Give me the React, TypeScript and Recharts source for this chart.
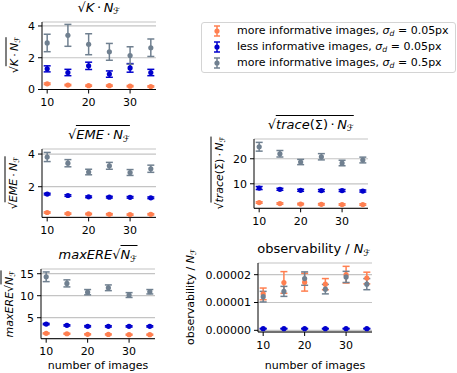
import React from "react";
import { ScatterChart, Scatter, XAxis, YAxis, CartesianGrid, ErrorBar } from "recharts";

const FONT = '"DejaVu Sans", sans-serif';

const nImages = [10, 15, 20, 25, 30, 35];
const xTicks = [10, 20, 30];

// colours: more informative (0.05px), less informative (0.05px), more informative (0.5px)
const ORANGE = "#ff7f50";
const BLUE = "#0000cd";
const GRAY = "#708090";

// sqrt(K * N)
const kMoreFine = [0.36, 0.28, 0.24, 0.24, 0.21, 0.19];
const kMoreFineErr = [0.05, 0.04, 0.04, 0.04, 0.04, 0.04];
const kLessFine = [1.3, 1.07, 1.49, 0.97, 1.36, 1.07];
const kLessFineErr = [0.19, 0.2, 0.23, 0.2, 0.27, 0.2];
const kMoreCoarse = [2.93, 3.41, 2.85, 2.37, 2.14, 2.63];
const kMoreCoarseErr = [0.55, 0.69, 0.66, 0.53, 0.55, 0.55];

// sqrt(EME * N)
const emeMoreFine = [0.42, 0.35, 0.33, 0.31, 0.29, 0.31];
const emeMoreFineErr = [0.04, 0.04, 0.04, 0.04, 0.04, 0.04];
const emeLessFine = [1.55, 1.46, 1.38, 1.36, 1.35, 1.32];
const emeLessFineErr = [0.05, 0.05, 0.05, 0.05, 0.05, 0.05];
const emeMoreCoarse = [3.82, 3.44, 2.9, 3.28, 2.87, 3.1];
const emeMoreCoarseErr = [0.28, 0.22, 0.17, 0.21, 0.18, 0.22];

// sqrt(trace(Sigma) * N)
const trMoreFine = [2.5, 2.1, 1.9, 1.8, 1.7, 1.7];
const trMoreFineErr = [0.3, 0.3, 0.3, 0.3, 0.3, 0.3];
const trLessFine = [8.3, 7.8, 7.4, 7.3, 7.3, 7.1];
const trLessFineErr = [0.6, 0.4, 0.4, 0.4, 0.4, 0.4];
const trMoreCoarse = [24.8, 22.0, 18.7, 20.8, 18.3, 19.5];
const trMoreCoarseErr = [1.75, 1.3, 1.05, 1.25, 1.1, 1.15];

// maxERE sqrt(N)
const ereMoreFine = [1.44, 1.35, 1.22, 1.2, 1.14, 1.14];
const ereMoreFineErr = [0.12, 0.12, 0.12, 0.12, 0.12, 0.12];
const ereLessFine = [3.56, 3.26, 3.05, 3.03, 3.03, 3.03];
const ereLessFineErr = [0.15, 0.15, 0.15, 0.15, 0.15, 0.15];
const ereMoreCoarse = [14.3, 12.8, 10.8, 11.8, 10.15, 10.9];
const ereMoreCoarseErr = [1.1, 0.8, 0.6, 0.65, 0.55, 0.5];

// observability / N
const obsMoreFine = [1.31e-5, 1.72e-5, 1.73e-5, 1.66e-5, 2.0e-5, 1.88e-5];
const obsMoreFineErr = [0.21e-5, 0.39e-5, 0.32e-5, 0.2e-5, 0.3e-5, 0.21e-5];
const obsLessFine = [0.06e-5, 0.06e-5, 0.06e-5, 0.06e-5, 0.06e-5, 0.06e-5];
const obsLessFineErr = [0.01e-5, 0.01e-5, 0.01e-5, 0.01e-5, 0.01e-5, 0.01e-5];
const obsMoreCoarse = [1.21e-5, 1.4e-5, 1.86e-5, 1.48e-5, 1.92e-5, 1.66e-5];
const obsMoreCoarseErr = [0.19e-5, 0.18e-5, 0.24e-5, 0.17e-5, 0.2e-5, 0.2e-5];

const toRows = (vals: number[], errs: number[]) =>
  nImages.map((x, i) => ({ x, y: vals[i], e: errs[i] }));

type Series = { color: string; rows: { x: number; y: number; e: number }[] };

const dot = (color: string) => (p: any) => <circle cx={p.cx} cy={p.cy} r={2.6} fill={color} />;

function Panel(props: {
  left: number;
  top: number;
  h: number;
  yw: number;
  domain: [number, number];
  ticks: number[];
  fmt?: (v: number) => string;
  series: Series[];
}) {
  const { left, top, h, yw, domain, ticks, fmt, series } = props;
  const w = 114;
  return (
    <div style={{ position: "absolute", left: left - yw, top: top - 4 }}>
      <ScatterChart width={yw + w + 4} height={4 + h + 24} margin={{ top: 4, right: 4, bottom: 0, left: 0 }}>
        <CartesianGrid vertical={false} stroke="#c4c4c4" strokeWidth={1.2} />
        <XAxis
          type="number"
          dataKey="x"
          domain={[8.75, 36.25]}
          ticks={xTicks}
          allowDataOverflow
          interval={0}
          height={24}
          stroke="#000"
          tickSize={4}
          tickMargin={5}
          tick={{ fill: "#000", fontSize: 11, fontFamily: FONT }}
        />
        <YAxis
          type="number"
          dataKey="y"
          domain={domain}
          ticks={ticks}
          allowDataOverflow
          interval={0}
          width={yw}
          stroke="#000"
          tickSize={4}
          tickMargin={3}
          tickFormatter={fmt}
          tick={{ fill: "#000", fontSize: 11, fontFamily: FONT }}
        />
        {series.map((s, i) => (
          <Scatter key={i} data={s.rows} fill={s.color} shape={dot(s.color)} isAnimationActive={false}>
            <ErrorBar dataKey="e" direction="y" width={3.5} stroke={s.color} strokeWidth={1.5} isAnimationActive={false} />
          </Scatter>
        ))}
      </ScatterChart>
    </div>
  );
}

const Sub = () => (
  <span style={{ fontSize: "0.7em", position: "relative", top: "0.3em" }}>ℱ</span>
);

const Sqrt = ({ children }: { children: React.ReactNode }) => (
  <span>
    √<span style={{ borderTop: "1px solid #000", paddingTop: 1 }}>{children}</span>
  </span>
);

const dotSep = "\u2009·\u2009";

function Title({ cx, bottom, children }: { cx: number; bottom: number; children: React.ReactNode }) {
  return (
    <div
      style={{
        position: "absolute",
        left: cx,
        top: bottom - 17.5,
        transform: "translateX(-50%)",
        whiteSpace: "nowrap",
        fontSize: 13,
        lineHeight: "16px",
        fontFamily: FONT,
      }}
    >
      {children}
    </div>
  );
}

function YLabel({ cx, cy, children }: { cx: number; cy: number; children: React.ReactNode }) {
  return (
    <div
      style={{
        position: "absolute",
        left: cx,
        top: cy,
        transform: "translate(-50%, -50%) rotate(-90deg)",
        whiteSpace: "nowrap",
        fontSize: 11,
        lineHeight: "14px",
        fontFamily: FONT,
      }}
    >
      {children}
    </div>
  );
}

function XLabel({ cx, cy }: { cx: number; cy: number }) {
  return (
    <div
      style={{
        position: "absolute",
        left: cx,
        top: cy - 7,
        transform: "translateX(-50%)",
        whiteSpace: "nowrap",
        fontSize: 11,
        lineHeight: "14px",
        fontFamily: FONT,
      }}
    >
      number of images
    </div>
  );
}

const legendItems = [
  { color: ORANGE, label: "more informative images, ", sigma: "0.05px" },
  { color: BLUE, label: "less informative images, ", sigma: "0.05px" },
  { color: GRAY, label: "more informative images, ", sigma: "0.5px" },
];

function Legend() {
  return (
    <>
      <div
        style={{
          position: "absolute",
          left: 201,
          top: 22,
          width: 255,
          height: 51,
          boxSizing: "border-box",
          border: "1px solid #d4d4d4",
          borderRadius: 3,
          background: "#fff",
        }}
      />
      {legendItems.map((it, i) => {
        const cy = 31 + i * 16;
        return (
          <React.Fragment key={i}>
            <svg width={12} height={14} style={{ position: "absolute", left: 211, top: cy - 7 }}>
              <line x1={6} y1={2} x2={6} y2={12} stroke={it.color} strokeWidth={1.5} />
              <line x1={3} y1={2} x2={9} y2={2} stroke={it.color} strokeWidth={1.5} />
              <line x1={3} y1={12} x2={9} y2={12} stroke={it.color} strokeWidth={1.5} />
              <circle cx={6} cy={7} r={2.6} fill={it.color} />
            </svg>
            <div
              style={{
                position: "absolute",
                left: 237,
                top: cy - 8,
                fontSize: 11,
                lineHeight: "16px",
                whiteSpace: "nowrap",
                fontFamily: FONT,
              }}
            >
              {it.label}
              <i>σ</i>
              <span style={{ fontSize: "0.7em", position: "relative", top: "0.3em" }}>
                <i>d</i>
              </span>
              {" = " + it.sigma}
            </div>
          </React.Fragment>
        );
      })}
    </>
  );
}

export default function App() {
  return (
    <div style={{ position: "absolute", left: 0, top: 0, width: 457, height: 373, background: "#fff", fontFamily: FONT }}>
      <Panel
        left={42}
        top={22}
        h={67.5}
        yw={30}
        domain={[0, 4.25]}
        ticks={[0, 2, 4]}
        series={[
          { color: ORANGE, rows: toRows(kMoreFine, kMoreFineErr) },
          { color: BLUE, rows: toRows(kLessFine, kLessFineErr) },
          { color: GRAY, rows: toRows(kMoreCoarse, kMoreCoarseErr) },
        ]}
      />
      <Panel
        left={42}
        top={149.3}
        h={68.4}
        yw={30}
        domain={[0.12, 4.31]}
        ticks={[2, 4]}
        series={[
          { color: ORANGE, rows: toRows(emeMoreFine, emeMoreFineErr) },
          { color: BLUE, rows: toRows(emeLessFine, emeLessFineErr) },
          { color: GRAY, rows: toRows(emeMoreCoarse, emeMoreCoarseErr) },
        ]}
      />
      <Panel
        left={254.3}
        top={139}
        h={69.3}
        yw={30}
        domain={[0.2, 27.9]}
        ticks={[10, 20]}
        series={[
          { color: ORANGE, rows: toRows(trMoreFine, trMoreFineErr) },
          { color: BLUE, rows: toRows(trLessFine, trLessFineErr) },
          { color: GRAY, rows: toRows(trMoreCoarse, trMoreCoarseErr) },
        ]}
      />
      <Panel
        left={41}
        top={269.3}
        h={69.7}
        yw={30}
        domain={[0.23, 16.07]}
        ticks={[5, 10, 15]}
        series={[
          { color: ORANGE, rows: toRows(ereMoreFine, ereMoreFineErr) },
          { color: BLUE, rows: toRows(ereLessFine, ereLessFineErr) },
          { color: GRAY, rows: toRows(ereMoreCoarse, ereMoreCoarseErr) },
        ]}
      />
      <Panel
        left={257.7}
        top={263.3}
        h={69}
        yw={58}
        domain={[-0.06e-5, 2.42e-5]}
        ticks={[0, 1e-5, 2e-5]}
        fmt={(v) => v.toFixed(5)}
        series={[
          { color: ORANGE, rows: toRows(obsMoreFine, obsMoreFineErr) },
          { color: BLUE, rows: toRows(obsLessFine, obsLessFineErr) },
          { color: GRAY, rows: toRows(obsMoreCoarse, obsMoreCoarseErr) },
        ]}
      />

      <Title cx={99} bottom={17}>
        <Sqrt>
          <i>K</i>
          {dotSep}
          <i>N</i>
          <Sub />
        </Sqrt>
      </Title>
      <Title cx={99} bottom={144.3}>
        <Sqrt>
          <i>EME</i>
          {dotSep}
          <i>N</i>
          <Sub />
        </Sqrt>
      </Title>
      <Title cx={311} bottom={134}>
        <Sqrt>
          <i>trace</i>(Σ){dotSep}
          <i>N</i>
          <Sub />
        </Sqrt>
      </Title>
      <Title cx={98} bottom={264.3}>
        <i>maxERE</i>
        <Sqrt>
          <i>N</i>
          <Sub />
        </Sqrt>
      </Title>
      <Title cx={314} bottom={258.3}>
        observability / <i>N</i>
        <Sub />
      </Title>

      <YLabel cx={15} cy={55}>
        <Sqrt>
          <i>K</i>
          {dotSep}
          <i>N</i>
          <Sub />
        </Sqrt>
      </YLabel>
      <YLabel cx={14} cy={183}>
        <Sqrt>
          <i>EME</i>
          {dotSep}
          <i>N</i>
          <Sub />
        </Sqrt>
      </YLabel>
      <YLabel cx={220} cy={173}>
        <Sqrt>
          <i>trace</i>(Σ){dotSep}
          <i>N</i>
          <Sub />
        </Sqrt>
      </YLabel>
      <YLabel cx={10} cy={304}>
        <i>maxERE</i>
        <Sqrt>
          <i>N</i>
          <Sub />
        </Sqrt>
      </YLabel>
      <YLabel cx={191} cy={297}>
        observability / <i>N</i>
        <Sub />
      </YLabel>

      <XLabel cx={98} cy={366} />
      <XLabel cx={315} cy={366} />

      <Legend />
    </div>
  );
}
